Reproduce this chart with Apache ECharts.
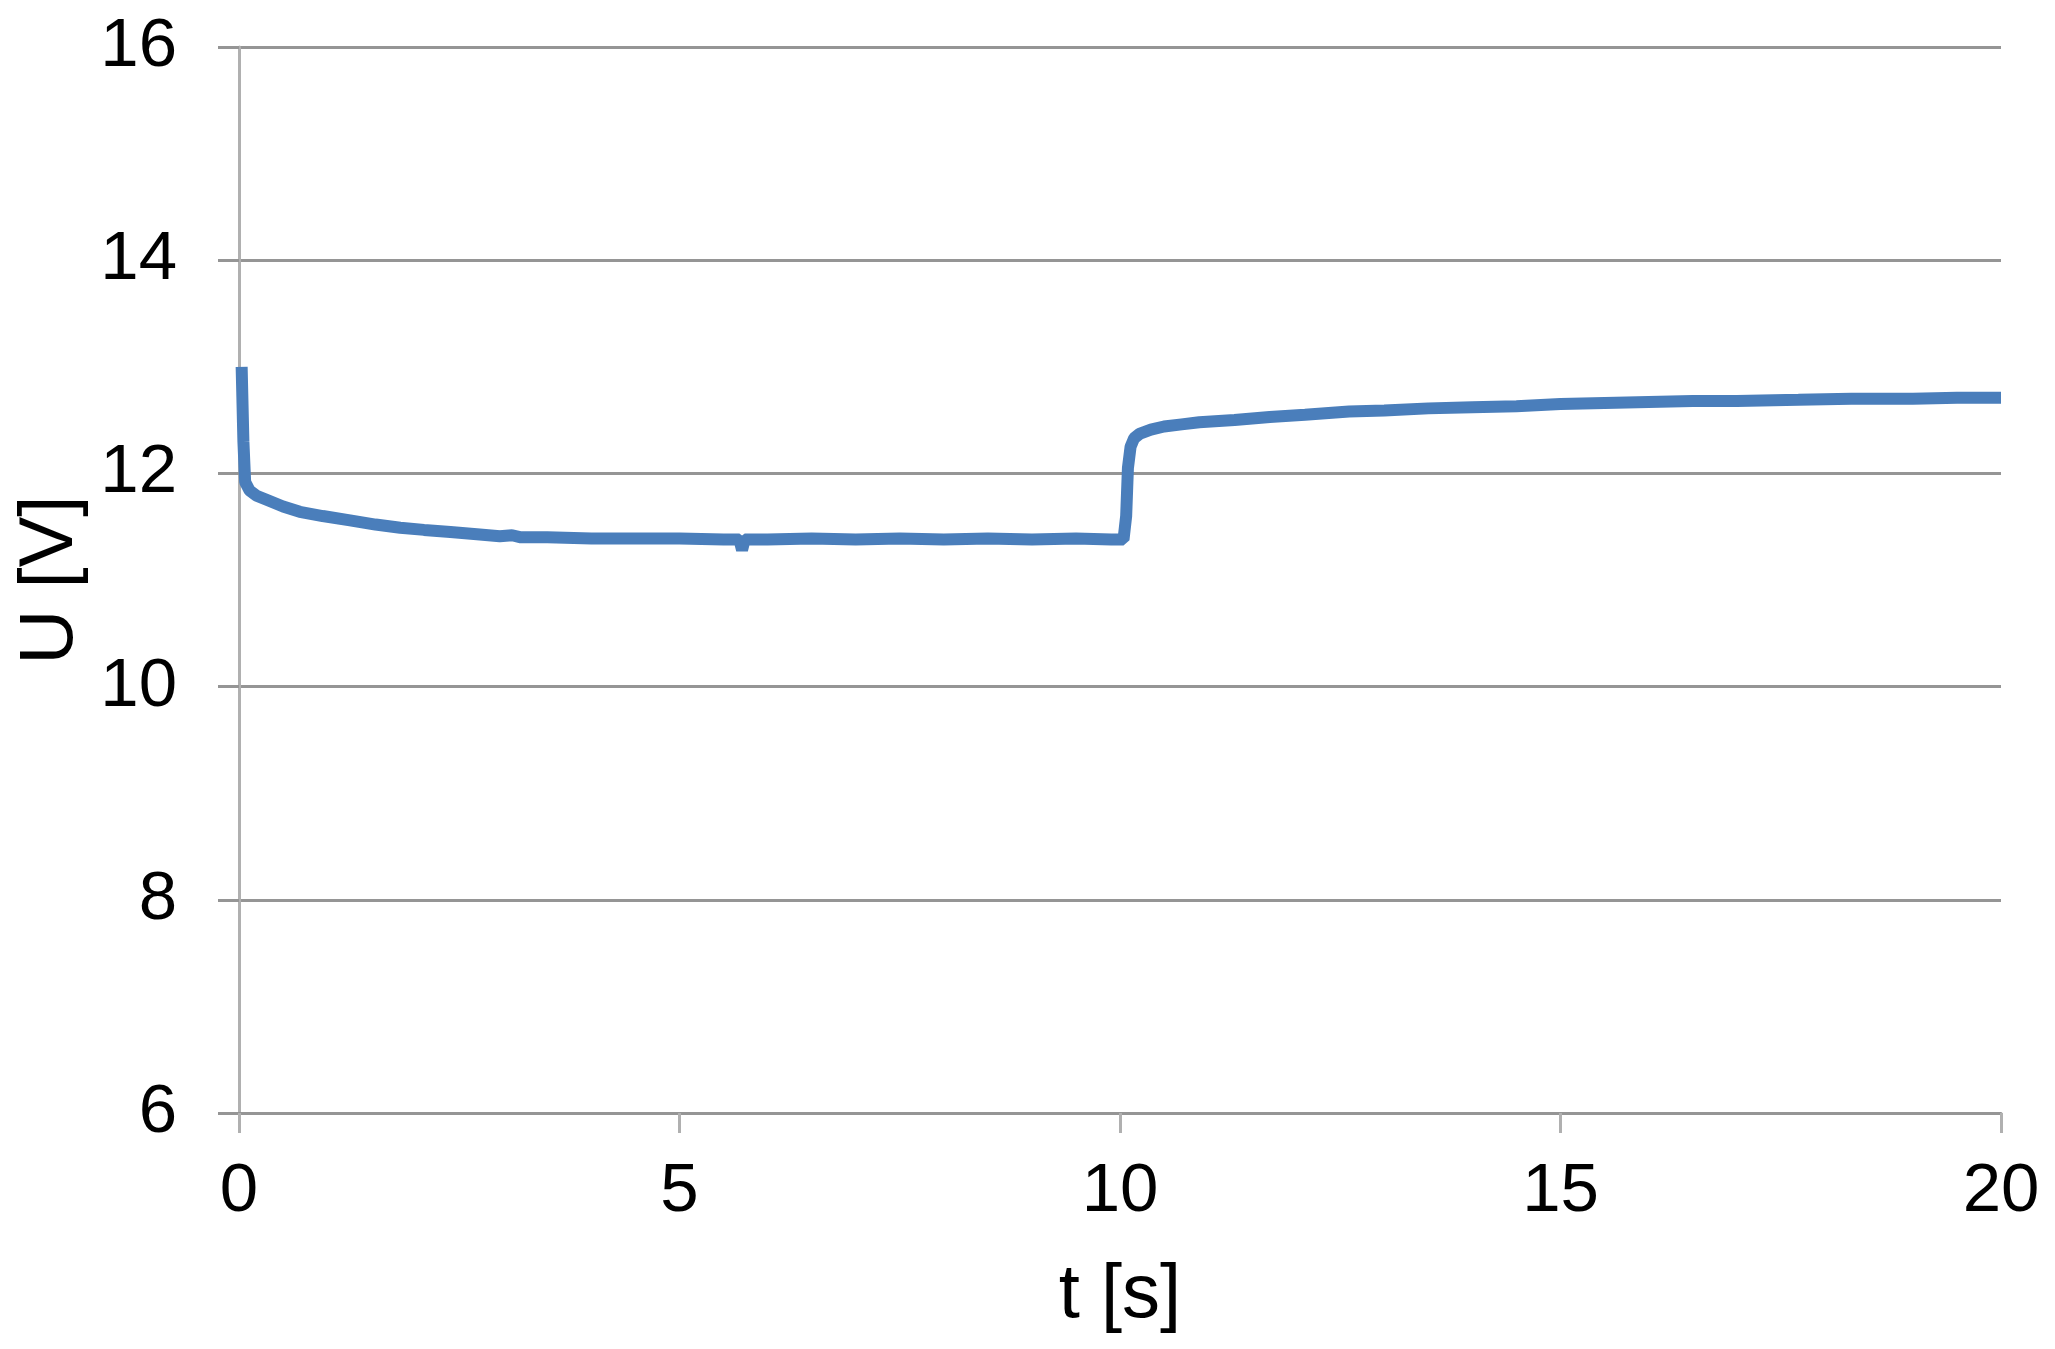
<!DOCTYPE html>
<html>
<head>
<meta charset="utf-8">
<script src="https://cdn.jsdelivr.net/npm/echarts@6/dist/echarts.min.js"></script>
<style>
html,body{margin:0;padding:0;background:#fff;}
#c{width:2055px;height:1349px;}
</style>
</head>
<body>
<div id="c"></div>
<script>
// time [s]
const tValues = [0.03, 0.05, 0.07, 0.12, 0.2, 0.32, 0.5, 0.69, 0.95, 1.26, 1.55, 1.83, 2.1, 2.4, 2.7, 2.96, 3.1, 3.2, 3.5, 4.0, 4.5, 5.0, 5.5, 5.68, 5.71, 5.74, 6.0, 6.5, 7.0, 7.5, 8.0, 8.5, 9.0, 9.5, 9.9, 10.04, 10.07, 10.09, 10.12, 10.16, 10.22, 10.35, 10.5, 10.7, 10.9, 11.3, 11.7, 12.1, 12.6, 13.0, 13.5, 14.0, 14.5, 15.0, 15.5, 16.0, 16.5, 17.0, 17.7, 18.3, 19.0, 19.5, 20.0];
// voltage [V]
const uValues = [13.0, 12.3, 11.92, 11.84, 11.79, 11.75, 11.69, 11.64, 11.6, 11.56, 11.52, 11.49, 11.47, 11.45, 11.43, 11.41, 11.42, 11.4, 11.4, 11.39, 11.39, 11.39, 11.38, 11.38, 11.28, 11.38, 11.38, 11.39, 11.38, 11.39, 11.38, 11.39, 11.38, 11.39, 11.38, 11.38, 11.6, 12.05, 12.25, 12.33, 12.37, 12.41, 12.44, 12.46, 12.48, 12.5, 12.53, 12.55, 12.58, 12.59, 12.61, 12.62, 12.63, 12.65, 12.66, 12.67, 12.68, 12.68, 12.69, 12.70, 12.70, 12.71, 12.71];
const xTicks = [0, 5, 10, 15, 20];
const yTicks = [6, 8, 10, 12, 14, 16];
const xName = 't [s]';
const yName = 'U [V]';

const data = tValues.map((t, i) => [t, uValues[i]]);
const font = '"Liberation Sans", Arial, sans-serif';

const chart = echarts.init(document.getElementById('c'), null, {renderer: 'canvas'});
chart.setOption({
  animation: false,
  backgroundColor: '#ffffff',
  grid: {left: 239, right: 54, top: 47, bottom: 236, containLabel: false},
  xAxis: {
    type: 'value',
    min: xTicks[0], max: xTicks[xTicks.length - 1], interval: 5,
    name: xName, nameLocation: 'middle', nameGap: 145,
    nameTextStyle: {fontFamily: font, fontSize: 76, color: '#000'},
    axisLine: {show: true, onZero: false, lineStyle: {color: '#959595', width: 3}},
    axisTick: {show: true, length: 20, lineStyle: {color: '#b0b0b0', width: 3}},
    axisLabel: {fontFamily: font, fontSize: 69, color: '#000', margin: 44},
    splitLine: {show: false}
  },
  yAxis: {
    type: 'value',
    min: yTicks[0], max: yTicks[yTicks.length - 1], interval: 2,
    name: yName, nameLocation: 'middle', nameGap: 145, nameRotate: 90,
    nameTextStyle: {fontFamily: font, fontSize: 76, color: '#000'},
    axisLine: {show: true, lineStyle: {color: '#b0b0b0', width: 3}},
    axisTick: {show: true, length: 21, lineStyle: {color: '#959595', width: 3}},
    axisLabel: {fontFamily: font, fontSize: 69, color: '#000', margin: 62},
    splitLine: {show: true, lineStyle: {color: '#959595', width: 3}}
  },
  series: [{
    type: 'line',
    data: data,
    showSymbol: false,
    symbol: 'none',
    lineStyle: {color: '#4a7ebb', width: 12},
    z: 3
  }]
});
</script>
</body>
</html>
